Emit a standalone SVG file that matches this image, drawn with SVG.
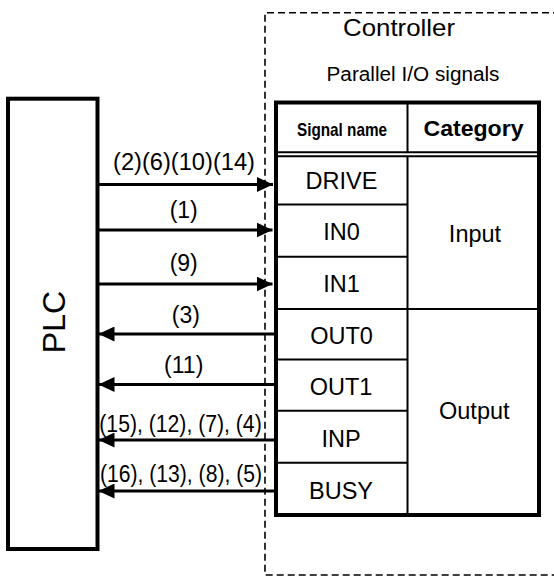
<svg xmlns="http://www.w3.org/2000/svg" width="554" height="577" viewBox="0 0 554 577">
<style>
text{font-family:"Liberation Sans",Arial,sans-serif;fill:#000}
.lbl{font-size:23px;text-anchor:middle}
.cell{font-size:23.5px;text-anchor:middle}
.thin{stroke:#000;stroke-width:2;fill:none}
.conn{stroke:#000;stroke-width:3;fill:none}
.r{marker-end:url(#headR)}
</style>
<defs>
<marker id="headR" markerUnits="userSpaceOnUse" markerWidth="16" markerHeight="15" refX="16" refY="7.5" orient="auto">
<path d="M0,0 L16,7.5 L0,15 z" fill="#000"/>
</marker>
</defs>
<rect width="554" height="577" fill="#fff"/>
<g id="controller">
<path d="M560,12.7 H265 V575 H560" fill="none" stroke="#000" stroke-width="1.6" stroke-dasharray="7,4"/>
<text x="399" y="36" font-size="24" text-anchor="middle" textLength="112" lengthAdjust="spacingAndGlyphs">Controller</text>
<text x="413" y="81" font-size="20" text-anchor="middle" textLength="173" lengthAdjust="spacingAndGlyphs">Parallel I/O signals</text>
</g>
<g id="plc">
<rect x="8" y="98.7" width="89.5" height="450.3" fill="#fff" stroke="#000" stroke-width="4"/>
<text x="65" y="322" font-size="32" text-anchor="middle" transform="rotate(-90 65 322)">PLC</text>
</g>
<g id="table">
<rect x="276" y="102.5" width="263" height="412.5" fill="#fff" stroke="#000" stroke-width="4"/>
<line class="thin" x1="276" y1="152.2" x2="539" y2="152.2"/>
<line class="thin" x1="276" y1="156.2" x2="539" y2="156.2"/>
<line class="thin" x1="407.5" y1="102.5" x2="407.5" y2="152.2"/>
<line class="thin" x1="407.5" y1="156.2" x2="407.5" y2="515"/>
<line class="thin" x1="276" y1="204.5" x2="407.5" y2="204.5"/>
<line class="thin" x1="276" y1="256.7" x2="407.5" y2="256.7"/>
<line class="thin" x1="276" y1="309" x2="539" y2="309"/>
<line class="thin" x1="276" y1="359.5" x2="407.5" y2="359.5"/>
<line class="thin" x1="276" y1="410.8" x2="407.5" y2="410.8"/>
<line class="thin" x1="276" y1="462.8" x2="407.5" y2="462.8"/>
<text x="342" y="135.7" font-size="18.5" font-weight="bold" text-anchor="middle" textLength="90" lengthAdjust="spacingAndGlyphs">Signal name</text>
<text x="473.5" y="135.7" font-size="22" font-weight="bold" text-anchor="middle" textLength="100" lengthAdjust="spacingAndGlyphs">Category</text>
<text class="cell" x="341.5" y="189.3">DRIVE</text>
<text class="cell" x="341.5" y="240.3">IN0</text>
<text class="cell" x="341.5" y="292.3">IN1</text>
<text class="cell" x="341.5" y="344">OUT0</text>
<text class="cell" x="341" y="395">OUT1</text>
<text class="cell" x="341" y="446.7">INP</text>
<text class="cell" x="341" y="499">BUSY</text>
<text class="cell" x="475" y="242">Input</text>
<text class="cell" x="474.3" y="419.3">Output</text>
</g>
<g id="connectors">
<line class="conn r" x1="97.5" y1="184.5" x2="273" y2="184.5"/>
<line class="conn r" x1="97.5" y1="230" x2="272.5" y2="230"/>
<line class="conn r" x1="97.5" y1="284" x2="272.5" y2="284"/>
<line class="conn r" x1="276" y1="334" x2="98.5" y2="334"/>
<line class="conn r" x1="276" y1="384.5" x2="98.5" y2="384.5"/>
<line class="conn r" x1="276" y1="440" x2="98.5" y2="440"/>
<line class="conn r" x1="276" y1="491" x2="98.5" y2="491"/>
<text class="lbl" x="184" y="170" textLength="142" lengthAdjust="spacingAndGlyphs">(2)(6)(10)(14)</text>
<text class="lbl" x="183.7" y="218.3">(1)</text>
<text class="lbl" x="183.7" y="271">(9)</text>
<text class="lbl" x="185.8" y="323.3">(3)</text>
<text class="lbl" x="183.7" y="372.7">(11)</text>
<text class="lbl" x="180.5" y="431.7" textLength="162.4" lengthAdjust="spacingAndGlyphs">(15), (12), (7), (4)</text>
<text class="lbl" x="181" y="481.7" textLength="162" lengthAdjust="spacingAndGlyphs">(16), (13), (8), (5)</text>
</g>
</svg>
